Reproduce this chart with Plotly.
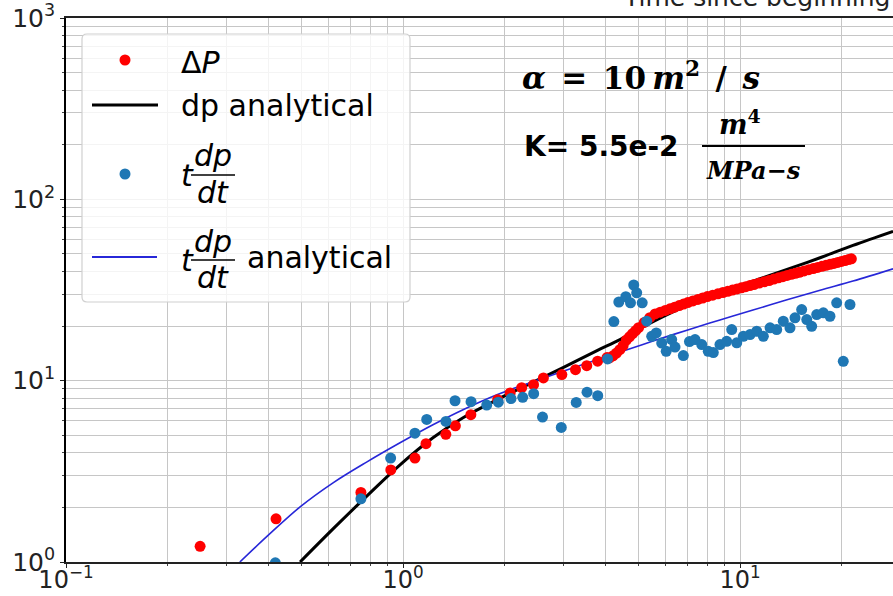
import plotly.graph_objects as go

# ---------------- data ----------------
dP_t = [0.25, 0.42, 0.75, 0.92, 1.085, 1.17, 1.34, 1.43, 1.59, 1.91, 2.08, 2.25, 2.44, 2.61,
        2.96, 3.25, 3.51, 3.78, 4.03,
        4.1, 4.2, 4.3, 4.4, 4.5, 4.6, 4.7, 4.8, 4.9, 5.0, 5.2, 5.4, 5.6, 5.8, 6.0, 6.2, 6.4,
        6.6, 6.8, 7.0, 7.25, 7.5, 7.75, 8.0, 8.3, 8.6, 8.9, 9.2, 9.5, 9.8, 10.1, 10.4, 10.7,
        11.0, 11.4, 11.8, 12.2, 12.6, 13.0, 13.4, 13.8, 14.2, 14.6, 15.0, 15.5, 16.0, 16.5,
        17.0, 17.5, 18.0, 18.5, 19.0, 19.5, 20.0, 20.5, 21.0, 21.4]
dP_v = [1.22, 1.73, 2.42, 3.22, 3.74, 4.49, 5.06, 5.64, 6.49, 7.85, 8.55, 9.15, 9.50, 10.35,
        10.8, 11.5, 12.1, 12.8, 13.4,
        13.35, 13.71, 14.19, 14.82, 15.61, 16.74, 17.46, 18.16, 18.87, 19.60, 20.94, 22.26,
        23.33, 23.87, 24.39, 24.89, 25.44, 25.96, 26.46, 26.97, 27.53, 28.06, 28.57, 29.08,
        29.60, 30.13, 30.64, 31.11, 31.58, 32.07, 32.52, 32.97, 33.44, 33.91, 34.52, 35.10,
        35.68, 36.33, 36.89, 37.46, 38.03, 38.57, 39.11, 39.61, 40.27, 40.95, 41.52, 42.10,
        42.70, 43.25, 43.80, 44.30, 44.87, 45.45, 45.97, 46.56, 46.97]

deriv_t = [0.418, 0.75, 0.919, 1.085, 1.176, 1.341, 1.427, 1.592, 1.772, 1.918, 2.092, 2.266,
           2.442, 2.594, 2.949, 3.266, 3.516, 3.783, 4.045, 4.223, 4.37, 4.583, 4.732, 4.838,
           4.937, 5.126, 5.286, 5.47, 5.644, 5.857, 6.04, 6.27, 6.414, 6.79, 7.08, 7.355, 7.70,
           8.05, 8.333, 8.72, 9.13, 9.45, 9.78, 10.23, 10.71, 11.21, 11.73, 12.28, 12.85,
           13.44, 14.07, 14.56, 15.24, 15.78, 16.32, 16.89, 17.67, 18.49, 19.36, 20.25, 21.2]
deriv_v = [0.99, 2.23, 3.74, 5.13, 6.11, 5.96, 7.75, 7.66, 7.34, 7.61, 7.97, 8.09,
           8.48, 6.30, 5.52, 7.59, 8.64, 8.26, 13.18, 21.18, 27.15, 29.04, 26.88, 33.7,
           30.5, 26.88, 21.27, 17.57, 18.34, 16.12, 14.52, 16.85, 15.31, 13.75, 16.43, 16.85,
           15.81, 14.52, 14.28, 15.81, 16.49, 19.13, 16.16, 17.57, 17.95, 18.73, 17.57, 19.55,
           19.13, 21.27, 19.55, 22.2, 24.68, 21.73, 19.95, 23.15, 23.66, 22.66, 26.88, 12.79,
           26.3]

dp_an_t = [0.495, 0.620, 0.782, 0.980, 1.227, 1.507, 1.900, 2.381, 2.985, 3.765, 4.405, 5.52,
           6.96, 8.72, 10.93, 13.79, 17.28, 21.64, 28.45]
dp_an_v = [1.0, 1.522, 2.315, 3.435, 4.843, 6.245, 7.85, 9.625, 11.80, 14.65, 16.85, 21.18,
           25.96, 30.43, 35.38, 41.06, 47.64, 55.7, 66.56]

der_an_t = [0.328, 0.3947, 0.495, 0.620, 0.782, 0.980, 1.227, 1.507, 1.900, 2.381, 2.985, 3.765,
            4.717, 5.52, 6.96, 8.72, 10.93, 13.79, 17.28, 21.64, 28.45]
der_an_v = [1.0, 1.383, 2.013, 2.733, 3.568, 4.544, 5.713, 6.917, 8.37, 9.737, 11.28, 13.06,
            15.01, 16.53, 18.99, 21.62, 24.52, 27.92, 31.55, 35.45, 41.4]

tick_vals = [0.1, 1, 10]
tick_text = ["10<sup>\u22121</sup>", "10<sup>0</sup>", "10<sup>1</sup>"]
ytick_vals = [1, 10, 100, 1000]
ytick_text = ["10<sup>0</sup>", "10<sup>1</sup>", "10<sup>2</sup>", "10<sup>3</sup>"]

# ---------------- figure ----------------
W, H = 893, 596
ML, MR, MT, MB = 66, 0, 18, 34
PW, PH = W - ML - MR, H - MT - MB


def fx(px):
    return (px - ML) / PW


def fy(py):
    return (H - MB - py) / PH


RED = "#ff0000"
TAB_BLUE = "#1f77b4"
LINE_BLUE = "#2727d8"

fig = go.Figure()
fig.add_trace(go.Scatter(x=dp_an_t, y=dp_an_v, mode="lines",
                         line=dict(color="black", width=3, shape="spline", smoothing=1.0),
                         name="dp analytical", showlegend=False))
fig.add_trace(go.Scatter(x=der_an_t, y=der_an_v, mode="lines",
                         line=dict(color=LINE_BLUE, width=1.6, shape="spline", smoothing=1.0),
                         name="t dp/dt analytical", showlegend=False))
fig.add_trace(go.Scatter(x=dP_t, y=dP_v, mode="markers", marker=dict(color=RED, size=11, line=dict(width=0)),
                         name="ΔP", showlegend=False))
fig.add_trace(go.Scatter(x=deriv_t, y=deriv_v, mode="markers",
                         marker=dict(color=TAB_BLUE, size=11, line=dict(width=0)),
                         name="t dp/dt", showlegend=False))

grid = "#c6c6c6"
common = dict(showgrid=True, gridcolor=grid, gridwidth=1.2, zeroline=False, automargin=False,
              ticks="outside", ticklen=4, tickcolor="#222222",
              minor=dict(dtick="D1", ticks="outside", ticklen=2, tickcolor="#444444",
                         showgrid=True, gridcolor=grid, gridwidth=1.2))
fig.update_xaxes(type="log", range=[-1, (W - ML) / 337 - 1], tickvals=tick_vals, ticktext=tick_text,
                 showline=True, linecolor="#222222", linewidth=1.8, mirror=True,
                 ticklabelstandoff=-9,
                 tickfont=dict(family="DejaVu Sans", size=24, color="#222222"), **common)
fig.update_yaxes(type="log", range=[0, 3], tickvals=ytick_vals, ticktext=ytick_text,
                 showline=True, linecolor="#000000", linewidth=1.8, mirror=False,
                 tickfont=dict(family="DejaVu Sans", size=25, color="#222222"), **common)

shapes = []
# legend frame (rounded)
x0, y0, x1, y1, r = 82, 34, 410, 302, 5
path = (f"M {fx(x0 + r)},{fy(y0)} L {fx(x1 - r)},{fy(y0)} Q {fx(x1)},{fy(y0)} {fx(x1)},{fy(y0 + r)} "
        f"L {fx(x1)},{fy(y1 - r)} Q {fx(x1)},{fy(y1)} {fx(x1 - r)},{fy(y1)} "
        f"L {fx(x0 + r)},{fy(y1)} Q {fx(x0)},{fy(y1)} {fx(x0)},{fy(y1 - r)} "
        f"L {fx(x0)},{fy(y0 + r)} Q {fx(x0)},{fy(y0)} {fx(x0 + r)},{fy(y0)} Z")
shapes.append(dict(type="path", path=path, xref="paper", yref="paper",
                   fillcolor="rgba(255,255,255,0.8)", line=dict(color="#d0d0d0", width=1.2), layer="above"))
# legend symbols
for cx, cy, col in [(125, 60, RED), (125, 174, TAB_BLUE)]:
    rr = 5.5
    shapes.append(dict(type="circle", xref="paper", yref="paper", x0=fx(cx - rr), x1=fx(cx + rr),
                       y0=fy(cy + rr), y1=fy(cy - rr), fillcolor=col, line=dict(width=0), layer="above"))
shapes.append(dict(type="line", xref="paper", yref="paper", x0=fx(92), x1=fx(158), y0=fy(105), y1=fy(105),
                   line=dict(color="black", width=3), layer="above"))
shapes.append(dict(type="line", xref="paper", yref="paper", x0=fx(92), x1=fx(157), y0=fy(257), y1=fy(257),
                   line=dict(color=LINE_BLUE, width=2), layer="above"))
# fraction bars in legend
for yb in (175, 260):
    shapes.append(dict(type="line", xref="paper", yref="paper", x0=fx(191), x1=fx(235), y0=fy(yb), y1=fy(yb),
                       line=dict(color="black", width=1.5), layer="above"))
# K fraction bar
shapes.append(dict(type="line", xref="paper", yref="paper", x0=fx(702), x1=fx(805), y0=fy(146), y1=fy(146),
                   line=dict(color="black", width=2), layer="above"))

ann = []


def text(px, py, s, size, family="DejaVu Sans", anchor="left", color="black"):
    ann.append(dict(x=fx(px), y=fy(py), xref="paper", yref="paper", text=s, showarrow=False,
                    xanchor=anchor, yanchor="middle", font=dict(family=family, size=size, color=color)))


LEG = 30
text(179, 62, "Δ<i>P</i>", LEG)
text(179, 106, "dp analytical", LEG)
text(179, 175, "<i>t</i>", LEG)
text(213, 155, "<i>dp</i>", LEG, anchor="center")
text(213, 192, "<i>dt</i>", LEG, anchor="center")
text(179, 260, "<i>t</i>", LEG)
text(213, 241, "<i>dp</i>", LEG, anchor="center")
text(213, 277, "<i>dt</i>", LEG, anchor="center")
text(245, 257, "analytical", LEG)

text(520, 76, "<b><i>α</i>\u2002=\u200210\u2009<i>m</i><sup>2</sup>\u2002/\u2002<i>s</i></b>", 31,
     family="DejaVu Serif")
text(522, 146, "<b>K= 5.5e-2</b>", 28, family="DejaVu Sans")
text(740, 122, "<b><i>m</i><sup>4</sup></b>", 27, family="DejaVu Serif", anchor="center")
text(753, 170, "<b><i>MPa−s</i></b>", 24, family="DejaVu Serif", anchor="center")
text(621, -3, "Time since beginning", 25, color="#222222")

fig.update_layout(width=W, height=H, margin=dict(l=ML, r=MR, t=MT, b=MB, pad=0, autoexpand=False),
                  paper_bgcolor="white", plot_bgcolor="white", showlegend=False,
                  shapes=shapes, annotations=ann)
fig.write_html("out.html", config={"displayModeBar": False},
               post_script="document.body.style.margin='0px';document.body.style.overflow='hidden';")
